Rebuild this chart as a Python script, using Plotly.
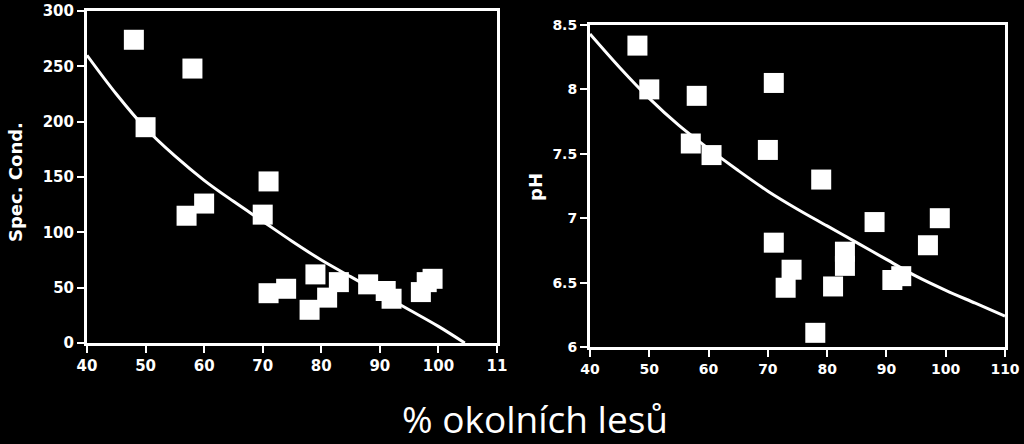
import plotly.graph_objects as go

W, H = 1024, 444

# ---- Data: left panel (Spec. Cond.) ----
cond_x = [48, 58, 50, 57, 60, 71, 70, 71, 74, 79, 78, 81, 83, 88, 91, 92, 97, 99, 98]
cond_y = [274, 248, 195, 115, 126, 146, 116, 45, 49, 62, 30, 41, 55, 53, 47, 40, 46, 58, 55]
cond_fit_x = [40, 45, 50, 55, 60, 65, 70, 75, 80, 85, 90, 95, 100, 104.5]
cond_fit_y = [260, 225, 194, 169, 147, 128, 110, 92, 75, 60, 45, 30, 15, 0]

# ---- Data: right panel (pH) ----
ph_x = [48, 50, 58, 71, 57, 60.5, 70, 79, 88, 99, 97, 71, 74, 73, 83, 83, 81, 91, 92.5, 78]
ph_y = [8.34, 8.0, 7.95, 8.05, 7.58, 7.49, 7.53, 7.30, 6.97, 7.0, 6.79, 6.81, 6.60, 6.46, 6.74, 6.63, 6.47, 6.52, 6.55, 6.11]
ph_fit_x = [40, 45, 50, 55, 60, 65, 70, 75, 80, 85, 90, 95, 100, 105, 110]
ph_fit_y = [8.43, 8.17, 7.93, 7.72, 7.54, 7.37, 7.21, 7.07, 6.94, 6.81, 6.68, 6.55, 6.44, 6.34, 6.24]

x_ticks = [40, 50, 60, 70, 80, 90, 100, 110]
x_ticktext_left = ["40", "50", "60", "70", "80", "90", "100", "11"]
x_ticktext_right = ["40", "50", "60", "70", "80", "90", "100", "110"]
cond_ticks = [0, 50, 100, 150, 200, 250, 300]
ph_ticks = [6, 6.5, 7, 7.5, 8, 8.5]
ph_ticktext = ["6", "6.5", "7", "7.5", "8", "8.5"]

x_title = "% okolních lesů"
cond_title = "Spec. Cond."
ph_title = "pH"


def px(x):
    return x / W


def py(y):
    return 1 - y / H


fig = go.Figure()

mk = dict(symbol="square", size=20, color="white", line=dict(width=0))
fig.add_trace(go.Scatter(x=cond_x, y=cond_y, mode="markers", marker=mk, xaxis="x", yaxis="y", showlegend=False))
fig.add_trace(go.Scatter(x=cond_fit_x, y=cond_fit_y, mode="lines", line=dict(color="white", width=3, shape="spline"),
                         xaxis="x", yaxis="y", showlegend=False))
fig.add_trace(go.Scatter(x=ph_x, y=ph_y, mode="markers", marker=mk, xaxis="x2", yaxis="y2", showlegend=False))
fig.add_trace(go.Scatter(x=ph_fit_x, y=ph_fit_y, mode="lines", line=dict(color="white", width=3, shape="spline"),
                         xaxis="x2", yaxis="y2", showlegend=False))

tickfont_l = dict(family="DejaVu Sans", size=15, color="white", weight="bold")
tickfont_r = dict(family="DejaVu Sans", size=14, color="white", weight="bold")
common = dict(showline=True, linecolor="white", linewidth=3, mirror=True, ticks="outside",
              tickcolor="white", tickwidth=2, ticklen=7, showgrid=False, zeroline=False, automargin=False)

fig.update_layout(
    width=W, height=H,
    paper_bgcolor="black", plot_bgcolor="black",
    margin=dict(l=0, r=0, t=0, b=0, autoexpand=False),
    xaxis=dict(domain=[px(87), px(497)], range=[40, 110], tickvals=x_ticks, ticktext=x_ticktext_left,
               tickfont=tickfont_l, anchor="y", **common),
    yaxis=dict(domain=[py(343), py(11)], range=[0, 300], tickvals=cond_ticks,
               tickfont=tickfont_l, anchor="x", **common),
    xaxis2=dict(domain=[px(590), px(1005)], range=[40, 110], tickvals=x_ticks, ticktext=x_ticktext_right,
                tickfont=tickfont_r, anchor="y2", **common),
    yaxis2=dict(domain=[py(347), py(25)], range=[6, 8.5], tickvals=ph_ticks, ticktext=ph_ticktext,
                tickfont=tickfont_r, anchor="x2", **common),
    annotations=[
        dict(text=x_title, x=px(535), y=py(418), xref="paper", yref="paper", showarrow=False,
             xanchor="center", yanchor="middle", font=dict(family="Open Sans", size=37, color="white")),
        dict(text=cond_title, x=px(15), y=py(182), xref="paper", yref="paper", showarrow=False,
             textangle=-90, xanchor="center", yanchor="middle",
             font=dict(family="DejaVu Sans", size=18, color="white", weight="bold")),
        dict(text=ph_title, x=px(535), y=py(187), xref="paper", yref="paper", showarrow=False,
             textangle=-90, xanchor="center", yanchor="middle",
             font=dict(family="DejaVu Sans", size=18, color="white", weight="bold")),
    ],
)

fig.write_html(
    "out.html",
    config={"displayModeBar": False},
    post_script="document.body.style.margin='0';document.body.style.background='black';"
                "document.documentElement.style.background='black';",
)
